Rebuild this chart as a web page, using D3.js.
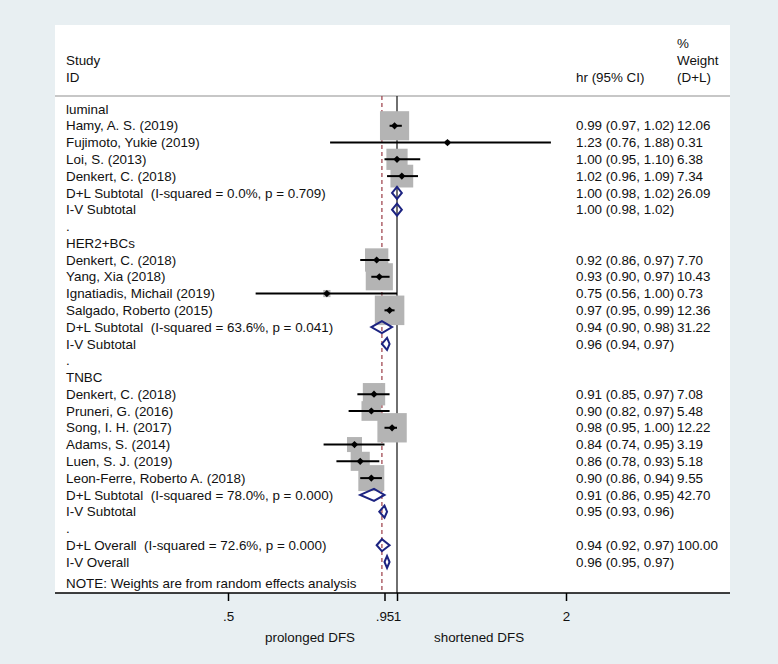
<!DOCTYPE html>
<html>
<head>
<meta charset="utf-8">
<script src="https://cdn.jsdelivr.net/npm/d3@7"></script>
<style>
  body { margin: 0; background: #e8eff2; }
  svg text { font-family: "Liberation Sans", Arial, sans-serif; font-size: 13.4px; fill: #111; white-space: pre; }
</style>
</head>
<body>
<div id="forest"></div>
<script>
// rows of the forest plot, top to bottom
var labels = [
  "luminal",
  "Hamy, A. S. (2019)", "Fujimoto, Yukie (2019)", "Loi, S. (2013)", "Denkert, C. (2018)",
  "D+L Subtotal  (I-squared = 0.0%, p = 0.709)", "I-V Subtotal", ".",
  "HER2+BCs",
  "Denkert, C. (2018)", "Yang, Xia (2018)", "Ignatiadis, Michail (2019)", "Salgado, Roberto (2015)",
  "D+L Subtotal  (I-squared = 63.6%, p = 0.041)", "I-V Subtotal", ".",
  "TNBC",
  "Denkert, C. (2018)", "Pruneri, G. (2016)", "Song, I. H. (2017)", "Adams, S. (2014)",
  "Luen, S. J. (2019)", "Leon-Ferre, Roberto A. (2018)",
  "D+L Subtotal  (I-squared = 78.0%, p = 0.000)", "I-V Subtotal", ".",
  "D+L Overall  (I-squared = 72.6%, p = 0.000)", "I-V Overall"
];
// s = study, p = pooled (diamond), t = text only
var kind = ["t","s","s","s","s","p","p","t","t","s","s","s","s","p","p","t","t","s","s","s","s","s","s","p","p","t","p","p"];
var hr = [null, 0.99, 1.23, 1.00, 1.02, 1.00, 1.00, null, null, 0.92, 0.93, 0.75, 0.97, 0.94, 0.96, null, null,
  0.91, 0.90, 0.98, 0.84, 0.86, 0.90, 0.91, 0.95, null, 0.94, 0.96];
var lower = [null, 0.97, 0.76, 0.95, 0.96, 0.98, 0.98, null, null, 0.86, 0.90, 0.56, 0.95, 0.90, 0.94, null, null,
  0.85, 0.82, 0.95, 0.74, 0.78, 0.86, 0.86, 0.93, null, 0.92, 0.95];
var upper = [null, 1.02, 1.88, 1.10, 1.09, 1.02, 1.02, null, null, 0.97, 0.97, 1.00, 0.99, 0.98, 0.97, null, null,
  0.97, 0.97, 1.00, 0.95, 0.93, 0.94, 0.95, 0.96, null, 0.97, 0.97];
var weight = [null, 12.06, 0.31, 6.38, 7.34, 26.09, null, null, null, 7.70, 10.43, 0.73, 12.36, 31.22, null, null, null,
  7.08, 5.48, 12.22, 3.19, 5.18, 9.55, 42.70, null, null, 100.00, null];

var overallHr = 0.94; // D+L overall, dashed line
var tickValues = [0.5, 0.95, 1, 2];
var tickLabels = [".5", ".95", "1", "2"];

var width = 778, height = 664;
var panel = { left: 55, right: 730, top: 25, bottom: 593 };
var headerLine = 96;

var svg = d3.select("#forest").append("svg")
  .attr("width", width)
  .attr("height", height);

// background + white plot panel
svg.append("rect").attr("width", width).attr("height", height).attr("fill", "#e8eff2");
svg.append("rect")
  .attr("x", panel.left).attr("y", panel.top)
  .attr("width", panel.right - panel.left).attr("height", panel.bottom - panel.top)
  .attr("fill", "#fff");

var x = d3.scaleLog().domain([0.5, 2]).range([228, 566]);
var y = d3.scaleLinear().domain([0, labels.length - 1]).range([109, 562]);
var f2 = d3.format(".2f");

// headers
var head = svg.append("g");
head.append("text").attr("x", 66).attr("y", 60).attr("dy", "0.35em").text("Study");
head.append("text").attr("x", 66).attr("y", 77).attr("dy", "0.35em").text("ID");
head.append("text").attr("x", 576).attr("y", 77).attr("dy", "0.35em").text("hr (95% CI)");
head.append("text").attr("x", 677).attr("y", 43).attr("dy", "0.35em").text("%");
head.append("text").attr("x", 677).attr("y", 60).attr("dy", "0.35em").text("Weight");
head.append("text").attr("x", 677).attr("y", 77).attr("dy", "0.35em").text("(D+L)");

svg.append("line")
  .attr("x1", panel.left).attr("x2", panel.right)
  .attr("y1", headerLine).attr("y2", headerLine)
  .attr("stroke", "#b4b4b4").attr("stroke-width", 1.5);

// null line and overall line
svg.append("line")
  .attr("x1", x(1)).attr("x2", x(1))
  .attr("y1", headerLine).attr("y2", panel.bottom)
  .attr("stroke", "#222").attr("stroke-width", 1.3);
svg.append("line")
  .attr("x1", x(overallHr)).attr("x2", x(overallHr))
  .attr("y1", headerLine).attr("y2", panel.bottom)
  .attr("stroke", "#9a3b44").attr("stroke-width", 1.2)
  .attr("stroke-dasharray", "4,3");

var rows = labels.map(function(d, i) {
  return { label: d, kind: kind[i], hr: hr[i], lo: lower[i], hi: upper[i], w: weight[i], i: i };
});

// study boxes (area ~ weight)
var studies = rows.filter(function(d) { return d.kind == "s"; });
svg.selectAll(".box").data(studies).enter().append("rect")
  .attr("class", "box")
  .attr("x", function(d) { return x(d.hr) - 4.2 * Math.sqrt(d.w); })
  .attr("y", function(d) { return y(d.i) - 4.2 * Math.sqrt(d.w); })
  .attr("width", function(d) { return 8.4 * Math.sqrt(d.w); })
  .attr("height", function(d) { return 8.4 * Math.sqrt(d.w); })
  .attr("fill", "#b4b4b4");

// confidence intervals
svg.selectAll(".ci").data(studies).enter().append("line")
  .attr("x1", function(d) { return x(d.lo); })
  .attr("x2", function(d) { return x(d.hi); })
  .attr("y1", function(d) { return y(d.i); })
  .attr("y2", function(d) { return y(d.i); })
  .attr("stroke", "#000").attr("stroke-width", 2);

// point estimates
svg.selectAll(".pt").data(studies).enter().append("path")
  .attr("d", function(d) {
    var cx = x(d.hr), cy = y(d.i), r = 3.6;
    return "M" + (cx - r) + "," + cy + "L" + cx + "," + (cy - r) + "L" + (cx + r) + "," + cy + "L" + cx + "," + (cy + r) + "Z";
  })
  .attr("fill", "#000");

// pooled diamonds
var pooled = rows.filter(function(d) { return d.kind == "p"; });
svg.selectAll(".dia").data(pooled).enter().append("path")
  .attr("d", function(d) {
    var cy = y(d.i), h = 6;
    return "M" + x(d.lo) + "," + cy + "L" + x(d.hr) + "," + (cy - h) + "L" + x(d.hi) + "," + cy + "L" + x(d.hr) + "," + (cy + h) + "Z";
  })
  .attr("fill", "none")
  .attr("stroke", "#1c2381").attr("stroke-width", 2);

// row labels
svg.selectAll(".lab").data(rows).enter().append("text")
  .attr("x", 66).attr("y", function(d) { return y(d.i); })
  .attr("dy", "0.35em")
  .text(function(d) { return d.label; });

// estimate text and weights
var withEst = rows.filter(function(d) { return d.hr != null; });
svg.selectAll(".est").data(withEst).enter().append("text")
  .attr("x", 576).attr("y", function(d) { return y(d.i); })
  .attr("dy", "0.35em")
  .text(function(d) { return f2(d.hr) + " (" + f2(d.lo) + ", " + f2(d.hi) + ")"; });
svg.selectAll(".wt").data(rows.filter(function(d) { return d.w != null; })).enter().append("text")
  .attr("x", 677).attr("y", function(d) { return y(d.i); })
  .attr("dy", "0.35em")
  .text(function(d) { return f2(d.w); });

svg.append("text").attr("x", 66).attr("y", 583).attr("dy", "0.35em")
  .text("NOTE: Weights are from random effects analysis");

// x axis
svg.append("line")
  .attr("x1", panel.left).attr("x2", panel.right)
  .attr("y1", panel.bottom).attr("y2", panel.bottom)
  .attr("stroke", "#000").attr("stroke-width", 1.5);
var axis = svg.append("g")
  .attr("transform", "translate(0," + panel.bottom + ")")
  .call(d3.axisBottom(x).tickValues(tickValues)
    .tickFormat(function(d, i) { return tickLabels[i]; })
    .tickSize(8).tickPadding(10));
axis.select(".domain").remove();
axis.selectAll(".tick line").attr("stroke", "#000").attr("stroke-width", 1.5);
axis.selectAll(".tick text").style("font-size", "13.4px").attr("fill", "#111");

svg.append("text").attr("x", x(0.7)).attr("y", 637).attr("dy", "0.35em")
  .attr("text-anchor", "middle").text("prolonged DFS");
svg.append("text").attr("x", x(1.4)).attr("y", 637).attr("dy", "0.35em")
  .attr("text-anchor", "middle").text("shortened DFS");
</script>
</body>
</html>
